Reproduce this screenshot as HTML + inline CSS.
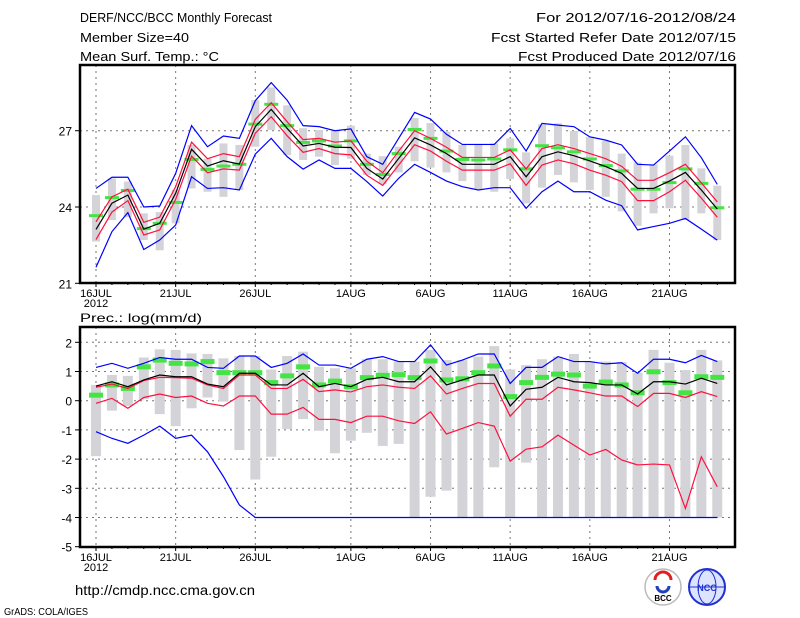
<!DOCTYPE html>
<html><head><meta charset="utf-8"><style>
html,body{margin:0;padding:0;background:#fff;}
svg{display:block;}
text{font-family:"Liberation Sans",sans-serif;fill:#000;}
</style></head><body>
<svg id="chart" width="800" height="618" viewBox="0 0 800 618">
<g font-size="13">
<text x="80" y="22" textLength="192" lengthAdjust="spacingAndGlyphs">DERF/NCC/BCC Monthly Forecast</text>
<text x="80" y="42" textLength="109" lengthAdjust="spacingAndGlyphs">Member Size=40</text>
<text x="80" y="61" textLength="139" lengthAdjust="spacingAndGlyphs">Mean Surf. Temp.: °C</text>
<text x="736" y="22" text-anchor="end" textLength="200" lengthAdjust="spacingAndGlyphs">For 2012/07/16-2012/08/24</text>
<text x="736" y="42" text-anchor="end" textLength="245" lengthAdjust="spacingAndGlyphs">Fcst Started Refer Date 2012/07/15</text>
<text x="736" y="61" text-anchor="end" textLength="218" lengthAdjust="spacingAndGlyphs">Fcst Produced Date 2012/07/16</text>
</g>
<text x="80" y="322" font-size="12" textLength="122" lengthAdjust="spacingAndGlyphs">Prec.: log(mm/d)</text>
<text x="75" y="595" font-size="14" textLength="180" lengthAdjust="spacingAndGlyphs">http://cmdp.ncc.cma.gov.cn</text>
<text x="4" y="615" font-size="10" textLength="84" lengthAdjust="spacingAndGlyphs">GrADS: COLA/IGES</text>
<g>
<circle cx="663" cy="587" r="18" fill="#fff" stroke="#bbb" stroke-width="1.5"/>
<path d="M655 580 a8 8 0 0 1 16 0" fill="none" stroke="#e02020" stroke-width="3"/>
<path d="M657 586 a6 6 0 0 0 12 0" fill="none" stroke="#2040c0" stroke-width="3"/>
<text x="663" y="601" font-size="8" text-anchor="middle" font-weight="bold">BCC</text>
</g>
<g>
<circle cx="707" cy="587" r="18" fill="#dde4ff" stroke="#2030d0" stroke-width="2"/>
<ellipse cx="707" cy="587" rx="9" ry="17" fill="none" stroke="#2030d0" stroke-width="1"/>
<line x1="690" y1="587" x2="724" y2="587" stroke="#2030d0"/>
<text x="707" y="591" font-size="9" text-anchor="middle" font-weight="bold" fill="#2030d0" style="fill:#2030d0">NCC</text>
</g>
<g id="top"></g>
<g id="bot"></g>
</svg>
<script>
// ---- shared categories ----
const days = ['16JUL','17JUL','18JUL','19JUL','20JUL','21JUL','22JUL','23JUL','24JUL','25JUL','26JUL','27JUL','28JUL','29JUL','30JUL','31JUL','1AUG','2AUG','3AUG','4AUG','5AUG','6AUG','7AUG','8AUG','9AUG','10AUG','11AUG','12AUG','13AUG','14AUG','15AUG','16AUG','17AUG','18AUG','19AUG','20AUG','21AUG','22AUG','23AUG','24AUG'];
const dayTickLabels = ['16JUL','21JUL','26JUL','1AUG','6AUG','11AUG','16AUG','21AUG'];
// ---- temperature panel ----
const tTicks = [21,24,27];
const tMean = [23.12,24.15,24.47,23.13,23.36,24.54,26.27,25.61,25.82,25.69,27.16,27.84,27.09,26.4,26.5,26.35,26.34,25.52,25.1,25.91,26.72,26.44,26.1,25.68,25.68,25.68,25.98,25.19,25.98,26.17,26.02,25.81,25.59,25.32,24.73,24.73,25.02,25.36,24.67,23.92];
const tRedHi = [23.42,24.4,24.7,23.4,23.6,24.8,26.55,25.9,26.1,25.98,27.45,28.1,27.35,26.65,26.7,26.55,26.6,25.8,25.35,26.2,27.0,26.7,26.35,25.95,25.95,25.95,26.25,25.5,26.3,26.45,26.3,26.1,25.9,25.6,25.05,25.05,25.35,25.68,24.95,24.2];
const tRedLo = [22.72,23.8,24.25,22.9,23.1,24.3,26.0,25.35,25.5,25.45,26.9,27.55,26.8,26.15,26.3,26.1,26.05,25.25,24.85,25.65,26.45,26.2,25.8,25.45,25.45,25.45,25.7,24.85,25.65,25.85,25.7,25.45,25.25,25.0,24.25,24.25,24.6,25.05,24.35,23.6];
const tBlueHi = [24.73,25.17,25.17,24.0,24.04,25.32,27.2,26.37,26.79,26.7,28.18,28.89,28.2,27.2,27.16,27.0,27.07,25.98,25.68,26.7,27.72,27.46,26.86,26.46,26.46,26.46,27.09,26.2,27.29,27.22,27.16,26.76,26.63,26.44,25.68,25.65,26.2,26.76,25.94,24.89];
const tBlueLo = [21.63,23.03,23.78,22.33,22.7,23.29,25.19,24.73,24.76,24.67,26.08,26.7,25.98,25.49,25.85,25.52,25.52,25.0,24.43,25.13,25.68,25.36,25.02,24.8,24.67,24.76,24.76,23.95,24.6,25.02,24.6,24.6,24.27,24.05,23.1,23.23,23.36,23.55,23.13,22.7];
const tObs = [23.66,24.37,24.65,23.15,23.36,24.18,25.87,25.48,25.61,25.68,27.26,28.04,27.2,26.54,26.6,26.4,26.6,25.68,25.28,26.1,27.05,26.7,26.2,25.87,25.85,25.89,26.25,25.5,26.41,26.33,26.17,25.89,25.63,25.42,24.7,24.7,24.96,25.5,24.93,23.97];
const tBarHi = [24.47,25.13,25.0,23.75,23.8,24.67,26.44,25.9,26.5,26.44,28.2,28.7,28.0,27.1,27.03,27.0,27.2,26.1,26.0,26.37,27.5,27.3,26.96,26.44,26.44,26.5,26.7,26.15,27.25,27.29,26.99,26.76,26.6,26.1,25.75,25.68,26.02,26.44,25.52,24.84];
const tBarLo = [22.64,23.49,23.6,22.7,22.3,23.36,24.73,24.6,24.4,24.67,26.37,27.03,26.04,25.85,25.98,25.65,25.9,25.26,24.9,25.36,25.8,25.55,25.36,25.02,24.7,24.6,25.1,24.14,24.76,25.26,24.97,24.67,24.4,23.83,23.26,23.75,23.95,23.49,23.75,22.7];
// ---- precipitation panel ----
const pTicks = [-5,-4,-3,-2,-1,0,1,2];
const pMean = [0.5,0.65,0.48,0.71,0.88,0.82,0.82,0.57,0.48,0.94,0.94,0.54,0.54,0.94,0.48,0.59,0.48,0.73,0.8,0.65,0.65,1.16,0.54,0.71,0.88,0.88,-0.18,0.39,0.46,0.8,0.65,0.62,0.54,0.54,0.23,0.65,0.65,0.57,0.77,0.59];
const pRedHi = [0.46,0.57,0.42,0.69,0.8,0.79,0.77,0.54,0.42,0.88,0.88,0.42,0.42,0.73,0.31,0.37,0.3,0.48,0.54,0.46,0.42,0.85,0.23,0.42,0.59,0.59,-0.53,0.05,0.05,0.46,0.37,0.27,0.16,0.16,-0.2,0.25,0.25,0.11,0.31,0.14];
const pRedLo = [-0.09,0.08,-0.26,0.11,0.23,0.11,0.16,-0.09,-0.18,0.16,0.16,-0.46,-0.46,-0.23,-0.64,-0.64,-0.75,-0.53,-0.53,-0.69,-0.78,-0.38,-1.14,-0.95,-0.75,-0.87,-2.07,-1.66,-1.58,-1.18,-1.52,-1.86,-1.67,-2.03,-2.2,-2.17,-2.2,-3.69,-1.92,-2.95];
const pBlueHi = [1.14,1.28,1.11,1.28,1.48,1.42,1.42,1.14,1.11,1.53,1.53,1.14,1.28,1.6,1.22,1.22,1.11,1.42,1.51,1.34,1.34,1.91,1.22,1.39,1.6,1.6,0.59,1.14,1.14,1.51,1.34,1.34,1.26,1.3,0.94,1.42,1.42,1.3,1.55,1.34];
const pBlueLo = [-1.06,-1.29,-1.46,-1.18,-0.87,-1.29,-1.18,-1.75,-2.6,-3.57,-4,-4,-4,-4,-4,-4,-4,-4,-4,-4,-4,-4,-4,-4,-4,-4,-4,-4,-4,-4,-4,-4,-4,-4,-4,-4,-4,-4,-4,-4];
const pObs = [0.19,0.54,0.42,1.16,1.39,1.28,1.26,1.34,0.96,0.96,0.96,0.62,0.85,1.16,0.54,0.67,0.48,0.79,0.87,0.89,0.79,1.36,0.71,0.75,0.96,1.19,0.14,0.62,0.8,0.91,0.88,0.5,0.64,0.54,0.27,0.99,0.62,0.27,0.82,0.8];
const pBarHi = [0.54,0.88,0.85,1.48,1.76,1.74,1.62,1.6,1.45,1.53,1.53,1.07,1.53,1.68,1.16,1.11,1.11,1.42,1.42,1.34,1.34,1.74,1.39,1.39,1.51,1.87,1.07,1.22,1.42,1.51,1.6,1.34,1.34,1.32,0.96,1.74,1.3,1.05,1.74,1.38];
const pBarLo = [-1.9,-0.34,-0.18,0.05,-0.46,-0.87,-0.26,0.11,-0.03,-1.69,-2.7,-1.92,-0.97,-0.63,-1.03,-1.8,-1.37,-1.1,-1.55,-1.48,-4,-3.29,-3.08,-4,-4,-2.28,-4,-2.12,-4,-4,-4,-4,-4,-4,-4,-4,-4,-4,-4,-4];

const NS='http://www.w3.org/2000/svg';
const L=80, R=735;
function xDay(i){return 96+15.93*i;}
function yT(v){return 283.3-(v-21)*25.43;}
function yB(v){return 400.7-v*29.2;}
function mk(parent,tag,attrs){const e=document.createElementNS(NS,tag);for(const k in attrs)e.setAttribute(k,attrs[k]);parent.appendChild(e);return e;}

function panel(g,top,bottom,yf,ticks,gridTicks,bHi,bLo,barW,obs,obsH,rHi,rLo,mean,blHi,blLo,prefix,showYearAt){
  days.forEach((d,i)=>{ if(dayTickLabels.indexOf(d)>=0){
    const ln=mk(g,'line',{x1:xDay(i),x2:xDay(i),y1:top,y2:bottom,stroke:'#777','stroke-dasharray':'2,4','stroke-width':1});
    
    
  }});
  gridTicks.forEach(t=>{
    const ln=mk(g,'line',{x1:L,x2:R,y1:yf(t),y2:yf(t),stroke:'#777','stroke-dasharray':'2,4','stroke-width':1});
    
    
  });
  bHi.forEach((h,i)=>{
    const y1=yf(h),y2=yf(bLo[i]);
    const r=mk(g,'rect',{x:xDay(i)-barW/2,y:y1,width:barW,height:Math.max(1,y2-y1),fill:'#d4d4d8'});
    
    
  });
  obs.forEach((v,i)=>{
    const r=mk(g,'rect',{x:xDay(i)-7,y:yf(v)-obsH/2,width:14,height:obsH,fill:'#44e444'});
    
    
  });
  function line(arr,col,name){
    const p=mk(g,'polyline',{points:arr.map((v,i)=>xDay(i)+','+yf(v)).join(' '),fill:'none',stroke:col,'stroke-width':1.2});
    
    
  }
  line(blHi,'#0000ff','upper-bound-line');
  line(blLo,'#0000ff','lower-bound-line');
  line(rHi,'#ff1040','upper-spread-line');
  line(rLo,'#ff1040','lower-spread-line');
  line(mean,'#000','ensemble-mean-line');
  const f=mk(g,'rect',{x:L,y:top,width:R-L,height:bottom-top,fill:'none',stroke:'#000','stroke-width':2.5});
  
  
  ticks.forEach(t=>{
    mk(g,'line',{x1:L-5,x2:L,y1:yf(t),y2:yf(t),stroke:'#000'});
    const tx=mk(g,'text',{x:L-8,y:yf(t)+5,'text-anchor':'end','font-size':12});
    tx.textContent=t;
    
    
  });
  days.forEach((d,i)=>{
    mk(g,'line',{x1:xDay(i),x2:xDay(i),y1:bottom,y2:bottom+(dayTickLabels.indexOf(d)>=0?4:2),stroke:'#000'});
    if(dayTickLabels.indexOf(d)>=0){
      const tx=mk(g,'text',{x:xDay(i),y:bottom+14,'text-anchor':'middle','font-size':11});
      tx.textContent=d;
      
      
    }
  });
  const yr=mk(g,'text',{x:xDay(0),y:bottom+showYearAt,'text-anchor':'middle','font-size':11});
  yr.textContent='2012';
  
  
}
const gt=document.getElementById('top');


panel(gt,65,283,yT,tTicks,[24,27],tBarHi,tBarLo,8,tObs,3,tRedHi,tRedLo,tMean,tBlueHi,tBlueLo,'temp',24);
const gb=document.getElementById('bot');


panel(gb,327,547,yB,pTicks,[-4,-3,-2,-1,0,1,2],pBarHi,pBarLo,10,pObs,5,pRedHi,pRedLo,pMean,pBlueHi,pBlueLo,'precip',24);
</script>
</body></html>
